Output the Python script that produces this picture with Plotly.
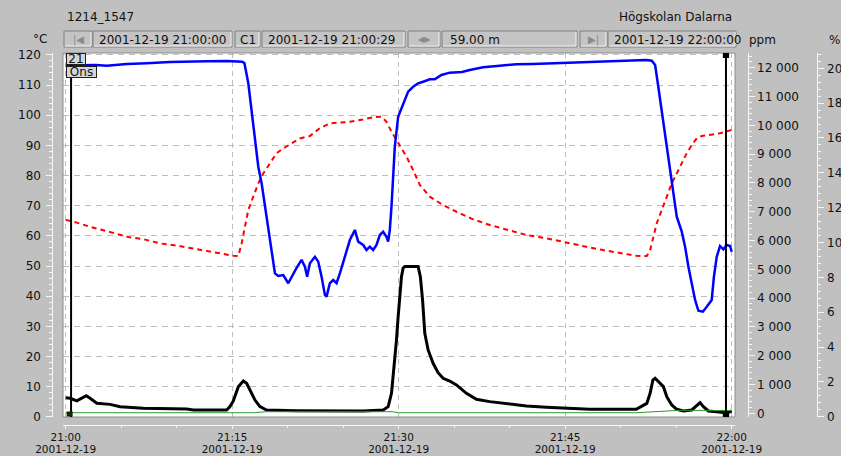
import pandas as pd
import plotly.graph_objects as go

# ---------------------------------------------------------------- data
DAY_START = pd.Timestamp("2001-12-19 21:00:00")

# (minutes after 21:00, value) pairs per channel
o2_pct = [
    (0, 20.16), (2.7, 20.19), (3.7, 20.15), (5.5, 20.25), (7.3, 20.29), (9.4, 20.36),
    (12.7, 20.40), (14.5, 20.42), (15.9, 20.38), (16.1, 20.30), (16.45, 19.14),
    (16.75, 17.61), (17.05, 16.07), (17.35, 14.35), (17.65, 13.40), (17.95, 12.06),
    (18.25, 10.72), (18.55, 9.38), (18.85, 8.23), (19.15, 8.08), (19.6, 8.13),
    (20.05, 7.66), (20.5, 8.23), (20.8, 8.54), (21.25, 9.00), (21.55, 8.61),
    (21.75, 8.04), (22.0, 8.81), (22.45, 9.18), (22.75, 8.90), (23.05, 8.04),
    (23.35, 6.99), (23.5, 6.89), (23.8, 7.66), (24.1, 7.85), (24.4, 7.66),
    (24.7, 8.23), (25.15, 9.18), (25.6, 10.14), (26.05, 10.72), (26.35, 10.05),
    (26.8, 9.86), (27.1, 9.57), (27.4, 9.76), (27.7, 9.57), (28.0, 9.86),
    (28.3, 10.43), (28.6, 10.62), (28.9, 10.33), (29.05, 10.05), (29.2, 10.72),
    (29.35, 12.06), (29.5, 13.78), (29.65, 15.50), (29.95, 17.22), (30.25, 17.72),
    (30.55, 18.28), (30.85, 18.66), (31.3, 18.94), (31.75, 19.14), (32.2, 19.23),
    (32.8, 19.37), (33.25, 19.37), (33.85, 19.62), (34.6, 19.75), (35.7, 19.79),
    (36.4, 19.90), (37.6, 20.06), (39.1, 20.15), (40.6, 20.23), (42.1, 20.25),
    (43.6, 20.29), (45.9, 20.32), (48.4, 20.38), (52.3, 20.48), (52.8, 20.44),
    (53.1, 20.19), (53.3, 19.33), (53.55, 18.18), (53.85, 16.84), (54.15, 15.50),
    (54.45, 14.16), (54.75, 12.82), (55.05, 11.48), (55.5, 10.62), (55.8, 9.76),
    (56.1, 8.61), (56.4, 7.66), (56.7, 6.70), (57.0, 6.08), (57.4, 6.03),
    (57.75, 6.31), (58.2, 6.70), (58.4, 8.04), (58.65, 9.18), (58.95, 9.80),
    (59.25, 9.61), (59.55, 9.86), (59.85, 9.80), (60.0, 9.47),
]

temp_c = [
    (0, 65.3), (1.0, 64.4), (2.2, 63.0), (4.0, 61.2), (5.8, 59.5), (7.0, 58.9),
    (8.5, 57.5), (10.0, 56.8), (11.5, 55.9), (13.0, 54.8), (15.1, 53.4), (15.55, 53.3),
    (15.85, 57.5), (16.15, 63.0), (16.45, 68.6), (16.9, 73.0), (17.35, 77.4),
    (17.8, 80.7), (18.4, 84.1), (19.0, 87.4), (19.6, 89.0), (20.35, 90.7),
    (21.1, 92.3), (22.0, 93.1), (22.9, 95.7), (23.8, 97.3), (24.7, 97.5),
    (25.6, 97.8), (26.8, 98.6), (27.7, 99.3), (28.45, 99.5), (28.9, 97.8),
    (29.35, 94.5), (29.8, 91.8), (30.1, 90.1), (30.7, 86.3), (31.3, 81.8),
    (31.9, 76.9), (32.8, 73.0), (34.0, 70.2), (35.2, 68.0), (36.7, 65.5),
    (38.2, 63.6), (39.7, 62.0), (41.5, 60.3), (43.3, 59.2), (45.1, 57.7),
    (46.9, 56.4), (48.4, 55.3), (49.9, 54.4), (51.4, 53.4), (52.35, 53.3),
    (52.65, 55.3), (52.95, 59.7), (53.25, 64.2), (53.7, 68.6), (54.15, 73.0),
    (54.6, 77.4), (55.05, 80.7), (55.5, 84.1), (55.95, 87.4), (56.4, 90.1),
    (56.85, 92.3), (57.3, 93.1), (58.05, 93.4), (58.95, 94.0), (60.0, 95.1),
]

co_ppm = [
    (0, 540), (0.4, 520), (1.0, 430), (1.45, 520), (1.85, 610), (2.2, 520),
    (2.8, 350), (4.0, 310), (4.9, 230), (7.0, 175), (8.5, 175), (10.9, 150),
    (11.5, 115), (14.5, 115), (14.8, 235), (15.1, 430), (15.55, 925), (16.0, 1120),
    (16.3, 1040), (16.6, 810), (17.05, 460), (17.5, 230), (18.1, 115), (20.8, 90),
    (23.8, 80), (26.8, 80), (28.6, 115), (29.05, 230), (29.35, 695), (29.5, 1270),
    (29.65, 1850), (29.8, 2545), (29.95, 3355), (30.1, 4165), (30.25, 4745),
    (30.4, 5045), (30.55, 5100), (31.75, 5100), (31.95, 4745), (32.15, 3935),
    (32.35, 2780), (32.65, 2200), (33.1, 1735), (33.55, 1410), (34.0, 1215),
    (34.6, 1120), (35.2, 985), (36.1, 695), (37.0, 485), (38.2, 405), (39.7, 325),
    (41.5, 255), (43.3, 210), (44.8, 175), (47.2, 140), (51.4, 140), (51.9, 255),
    (52.35, 345), (52.65, 695), (52.9, 1155), (53.1, 1215), (53.4, 1100),
    (53.85, 925), (54.15, 575), (54.6, 290), (55.05, 140), (55.65, 80),
    (56.4, 115), (56.85, 290), (57.15, 370), (57.45, 230), (57.9, 80),
    (58.65, 55), (59.55, 10), (60.0, 80),
]

nox_ppm = [
    (0, 20), (17.0, 20), (18.0, 55), (29.4, 55), (30.0, 20), (51.4, 20),
    (55.4, 105), (60.0, 95),
]

x_tick_minutes = [0, 15, 30, 45, 60]
x_tick_times = ["21:00", "21:15", "21:30", "21:45", "22:00"]
x_tick_dates = ["2001-12-19"] * 5

cursor_c1 = pd.Timestamp("2001-12-19 21:00:29")
cursor_end = pd.Timestamp("2001-12-19 21:59:29")

header_title = "1214_1547"
header_org = "Högskolan Dalarna"
field_start = "2001-12-19 21:00:00"
field_c1 = "2001-12-19 21:00:29"
field_span = "59.00 m"
field_end = "2001-12-19 22:00:00"
day_label = "21"
weekday_label = "Ons"

# ---------------------------------------------------------------- layout geometry
W, H = 841, 456
PLOT_L, PLOT_R, PLOT_T, PLOT_B = 63, 735, 53, 417
X0_PX, PX_PER_MIN = 65.7, 11.1            # 21:00 position, minute width
BG = "#c0c0c0"
FONT = "DejaVu Sans"
INK = "#111111"
RULER = "#f6f6f6"
GRID = "#bdbdbd"


def fx(px):
    return px / W


def fy(py):
    return 1 - py / H


def at(minutes):
    return [DAY_START + pd.Timedelta(minutes=m) for m in minutes]


def split(series):
    ms, vs = zip(*series)
    return at(ms), list(vs)


def minute_at(px):
    return (px - X0_PX) / PX_PER_MIN


x_range = at([minute_at(PLOT_L), minute_at(PLOT_R)])
x_range = [t.strftime("%Y-%m-%d %H:%M:%S.%f") for t in x_range]


# vertical scales: pixel = zero_px - value * px_per_unit
def y_range(zero_px, px_per_unit):
    return [(zero_px - PLOT_B) / px_per_unit, (zero_px - PLOT_T) / px_per_unit]


range_c = y_range(416.9, 3.017)
range_ppm = y_range(413.3, 0.0288)
range_pct = y_range(416.7, 17.42)

# ---------------------------------------------------------------- traces
fig = go.Figure()

tx, ty = split(temp_c)
fig.add_trace(go.Scatter(x=tx, y=ty, mode="lines", xaxis="x", yaxis="y",
                         line=dict(color="#ff0000", width=2, dash="5px,4px"),
                         hoverinfo="skip", showlegend=False))

gx, gy = split(nox_ppm)
fig.add_trace(go.Scatter(x=gx, y=gy, mode="lines", xaxis="x2", yaxis="y2",
                         line=dict(color="#2a9a2a", width=1),
                         hoverinfo="skip", showlegend=False))

cx, cy = split(co_ppm)
fig.add_trace(go.Scatter(x=cx, y=cy, mode="lines", xaxis="x", yaxis="y2",
                         line=dict(color="#000000", width=3),
                         hoverinfo="skip", showlegend=False))

ox, oy = split(o2_pct)
fig.add_trace(go.Scatter(x=ox, y=oy, mode="lines", xaxis="x3", yaxis="y3",
                         line=dict(color="#0000ff", width=2.5),
                         hoverinfo="skip", showlegend=False))

# empty traces that hold the tick-label scales
for axis_id in ("y4", "y5", "y6"):
    fig.add_trace(go.Scatter(x=[], y=[], xaxis="x", yaxis=axis_id,
                             hoverinfo="skip", showlegend=False))

# ---------------------------------------------------------------- axes
tick_font = dict(family=FONT, size=12, color=INK)
x_font = dict(family=FONT, size=10.5, color=INK)
y_domain = [fy(PLOT_B), fy(PLOT_T)]
x_domain = [fx(PLOT_L), fx(PLOT_R)]
t0 = DAY_START.strftime("%Y-%m-%d %H:%M:%S")


def ruler(**kw):
    # ruler axis: line + major/minor ticks, no labels
    base = dict(domain=y_domain, anchor="free", showgrid=False, zeroline=False,
                showline=True, linecolor=RULER, linewidth=1, tick0=0,
                ticks="outside", ticklen=6, tickcolor=RULER, tickwidth=1,
                showticklabels=False, fixedrange=True, automargin=False)
    base.update(kw)
    return base


def labels(**kw):
    # label-only axis sharing a ruler's scale
    base = dict(domain=y_domain, anchor="free", overlaying="y", showgrid=False,
                zeroline=False, showline=False, ticks="", tick0=0,
                tickfont=tick_font, fixedrange=True, automargin=False)
    base.update(kw)
    return base


fig.update_layout(
    width=W, height=H,
    margin=dict(l=0, r=0, t=0, b=0, pad=0),
    paper_bgcolor=BG, plot_bgcolor="#ffffff",
    separators=". ",
    font=dict(family=FONT, size=12, color=INK),
    showlegend=False,
    xaxis=dict(
        domain=x_domain, range=x_range, type="date",
        showgrid=True, gridcolor=GRID, griddash="5px,4px", gridwidth=1,
        tick0=t0, dtick=15 * 60 * 1000,
        showticklabels=False, ticks="", showline=False, zeroline=False,
        fixedrange=True, automargin=False,
    ),
    # time ruler under the plot
    xaxis2=dict(
        overlaying="x", anchor="free", position=fy(424.5), side="bottom",
        domain=x_domain, range=x_range, type="date",
        showgrid=False, zeroline=False,
        showline=True, linecolor=RULER, linewidth=1,
        tickmode="array", tickvals=at(x_tick_minutes), ticktext=x_tick_times,
        ticks="outside", ticklen=3, tickcolor=RULER, tickwidth=1,
        minor=dict(dtick=5 * 60 * 1000, tick0=t0,
                   ticks="outside", ticklen=2, tickcolor=RULER, showgrid=False),
        tickfont=x_font, fixedrange=True, automargin=False,
    ),
    # date row under the time labels
    xaxis3=dict(
        overlaying="x", anchor="free", position=fy(441.5), side="bottom",
        domain=x_domain, range=x_range, type="date",
        showgrid=False, zeroline=False, showline=False, ticks="",
        tickmode="array", tickvals=at(x_tick_minutes), ticktext=x_tick_dates,
        tickfont=x_font, fixedrange=True, automargin=False,
    ),
    yaxis=ruler(range=range_c, position=fx(52), side="left", dtick=10,
                showgrid=True, gridcolor=GRID, griddash="6px,5px", gridwidth=1,
                minor=dict(dtick=2, ticks="outside", ticklen=3, tickcolor=RULER,
                           showgrid=False)),
    yaxis2=ruler(range=range_ppm, overlaying="y", position=fx(748), side="right",
                 dtick=1000,
                 minor=dict(dtick=200, ticks="outside", ticklen=3, tickcolor=RULER,
                            showgrid=False)),
    yaxis3=ruler(range=range_pct, overlaying="y", position=fx(817), side="right",
                 dtick=2,
                 minor=dict(dtick=0.4, ticks="outside", ticklen=3, tickcolor=RULER,
                            showgrid=False)),
    yaxis4=labels(range=range_c, position=fx(41), side="left", dtick=10),
    yaxis5=labels(range=range_ppm, position=fx(756), side="right", dtick=1000,
                  tickformat=",d", separatethousands=True),
    yaxis6=labels(range=range_pct, position=fx(826), side="right", dtick=2),
)

# ---------------------------------------------------------------- frame, cursors, toolbar
shapes = []

# plot frame
shapes.append(dict(type="rect", xref="paper", yref="paper",
                   x0=fx(PLOT_L), x1=fx(PLOT_R), y0=fy(PLOT_B), y1=fy(PLOT_T),
                   line=dict(color="#8c8c8c", width=1), layer="above"))

# measurement cursors
half = pd.Timedelta(seconds=17)
for c in (cursor_c1, cursor_end):
    shapes.append(dict(type="line", xref="x", yref="paper", x0=c, x1=c,
                       y0=fy(PLOT_B), y1=fy(PLOT_T),
                       line=dict(color="#000000", width=2), layer="above"))
shapes.append(dict(type="rect", xref="x", yref="paper",
                   x0=cursor_c1 - half * 1.4, x1=cursor_c1 + half * 0.5,
                   y0=fy(PLOT_B - 0.5), y1=fy(PLOT_B - 5.5),
                   fillcolor="#0a2a0a", line=dict(width=0), layer="above"))
for y_top, y_bot in ((PLOT_T, PLOT_T + 5), (PLOT_B - 5, PLOT_B)):
    shapes.append(dict(type="rect", xref="x", yref="paper",
                       x0=cursor_end - half, x1=cursor_end + half,
                       y0=fy(y_bot), y1=fy(y_top),
                       fillcolor="#000000", line=dict(width=0), layer="above"))

# toolbar: (left, right)
TB_TOP, TB_BOT = 31, 47
toolbar = [
    (64, 92), (93, 232), (235, 260), (262, 405),
    (408, 440), (442, 577), (580, 607), (608, 736),
]
for x0, x1 in toolbar:
    shapes.append(dict(type="rect", xref="paper", yref="paper",
                       x0=fx(x0), x1=fx(x1), y0=fy(TB_BOT), y1=fy(TB_TOP),
                       fillcolor="#c4c4c4", line=dict(color="#808080", width=1)))
    # light edge on the lower/right side for the sunken look
    shapes.append(dict(type="path", xref="paper", yref="paper",
                       path=f"M {fx(x0 + 1)} {fy(TB_BOT - 1)} L {fx(x1 - 1)} {fy(TB_BOT - 1)} "
                            f"L {fx(x1 - 1)} {fy(TB_TOP + 1)}",
                       line=dict(color="#f2f2f2", width=1)))

fig.update_layout(shapes=shapes)

# ---------------------------------------------------------------- texts
ann = []


def text(s, x, y, xanchor="left", size=12, color=INK, **kw):
    ann.append(dict(text=s, x=fx(x), y=fy(y), xref="paper", yref="paper",
                    xanchor=xanchor, yanchor="middle", showarrow=False,
                    font=dict(family=FONT, size=size, color=color), **kw))


text(header_title, 65, 17)
text(header_org, 734, 17, xanchor="right")
text("°C", 49, 39, xanchor="right")
text("ppm", 747, 40)
text("%", 827, 40)

mid = (TB_TOP + TB_BOT) / 2 + 0.5
text("|◀", 78, mid, xanchor="center", size=10, color="#8a8a8a")
text(field_start, 97, mid)
text("C1", 247.5, mid, xanchor="center")
text(field_c1, 266, mid)
text("◀▶", 424, mid, xanchor="center", size=8, color="#8a8a8a")
text(field_span, 448, mid)
text("▶|", 593.5, mid, xanchor="center", size=10, color="#8a8a8a")
text(field_end, 612, mid)

# day / weekday tags in the plot corner
for label, y_mid, w in ((day_label, 59.5, 18), (weekday_label, 72, 29)):
    ann.append(dict(text=label, x=fx(65.5), y=fy(y_mid), xref="paper", yref="paper",
                    xanchor="left", yanchor="middle", showarrow=False,
                    width=w, height=10, align="center",
                    font=dict(family=FONT, size=12, color=INK),
                    bgcolor="#d6d6d6", bordercolor="#202020", borderwidth=1, borderpad=0))

fig.update_layout(annotations=ann)

fig.write_html("out.html")
